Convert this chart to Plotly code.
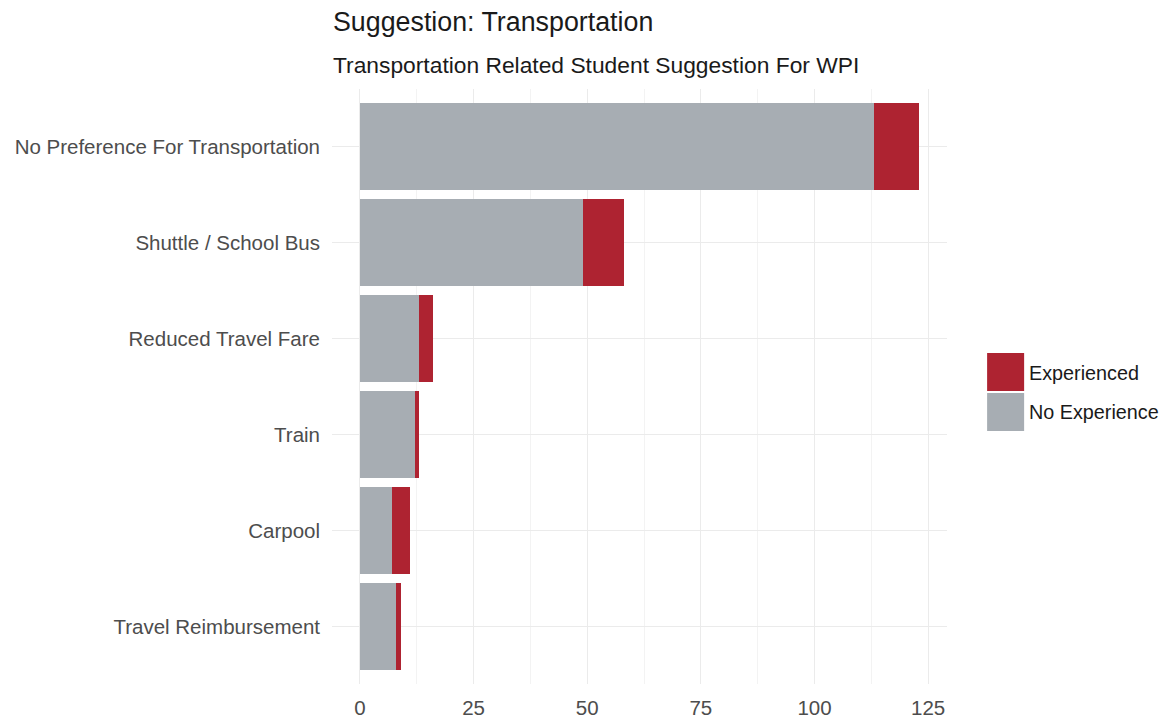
import plotly.graph_objects as go

categories = ["No Preference For Transportation", "Shuttle / School Bus", "Reduced Travel Fare",
              "Train", "Carpool", "Travel Reimbursement"]
no_experience = [113, 49, 13, 12, 7, 8]
experienced = [10, 9, 3, 1, 4, 1]
x_ticks = [0, 25, 50, 75, 100, 125]

RED = "#AE2331"
GREY = "#A7ADB3"
FONT = "Liberation Sans, Arial, sans-serif"

# Page layout (screen px; the html body adds an 8px offset)
OFF = 8
W, H = 1162, 709
PL, PR = 332.1, 946.9        # panel left/right on screen
PT, PB = 88.6, 684.4         # panel top/bottom on screen
L = PL - OFF
T = PT - OFF
R = W - (PR - OFF)
B = H - (PB - OFF)
PW, PH = PR - PL, PB - PT


def px(sx):
    return (sx - PL) / PW


def py(sy):
    return (PB - sy) / PH


fig = go.Figure()
fig.add_trace(go.Bar(y=categories, x=no_experience, orientation="h", name="No Experience",
                     marker=dict(color=GREY, line=dict(width=0)), showlegend=False))
fig.add_trace(go.Bar(y=categories, x=experienced, orientation="h", name="Experienced",
                     marker=dict(color=RED, line=dict(width=0)), showlegend=False))

total_max = max(a + b for a, b in zip(no_experience, experienced))
pad = total_max * 0.05

fig.update_layout(
    width=W, height=H,
    margin=dict(l=L, r=R, t=T, b=B, autoexpand=False),
    barmode="stack", bargap=0.1,
    plot_bgcolor="white", paper_bgcolor="white",
    font=dict(family=FONT, color="#4D4D4D", size=20.5),
    xaxis=dict(range=[-pad, total_max + pad], tickvals=x_ticks, showgrid=True,
               gridcolor="#EBEBEB", gridwidth=1.3, zeroline=False, showline=False,
               tickfont=dict(size=20.5, color="#4D4D4D"), ticks="", ticklabelstandoff=9,
               automargin=False,
               minor=dict(dtick=12.5, tick0=0, showgrid=True, gridcolor="#F3F3F3", gridwidth=0.8)),
    yaxis=dict(categoryorder="array", categoryarray=categories, range=[5.6, -0.6],
               showgrid=True, gridcolor="#EBEBEB", gridwidth=1.3, zeroline=False, showline=False,
               tickfont=dict(size=20.5, color="#4D4D4D"), ticks="", ticklabelstandoff=11,
               automargin=False),
)

# Titles
fig.add_annotation(text="Suggestion: Transportation", xref="paper", yref="paper",
                   x=px(333), y=py(22), xanchor="left", yanchor="middle", showarrow=False,
                   font=dict(size=26.8, color="#1A1A1A", family=FONT), xshift=-2)
fig.add_annotation(text="Transportation Related Student Suggestion For WPI", xref="paper", yref="paper",
                   x=px(333), y=py(65), xanchor="left", yanchor="middle", showarrow=False,
                   font=dict(size=22.8, color="#1A1A1A", family=FONT), xshift=-2)

# Legend (ggplot-style large keys)
legend_items = [("Experienced", RED, 353, 391, 373), ("No Experience", GREY, 393, 431, 412)]
for label, color, y0, y1, yc in legend_items:
    fig.add_shape(type="rect", xref="paper", yref="paper",
                  x0=px(987), x1=px(1024), y0=py(y1), y1=py(y0),
                  fillcolor=color, line=dict(width=0))
    fig.add_annotation(text=label, xref="paper", yref="paper", x=px(1029),
                       y=py(yc), xanchor="left", yanchor="middle", showarrow=False,
                       font=dict(size=19.8, color="#1A1A1A", family=FONT), xshift=-2)

fig.write_html("out.html")
